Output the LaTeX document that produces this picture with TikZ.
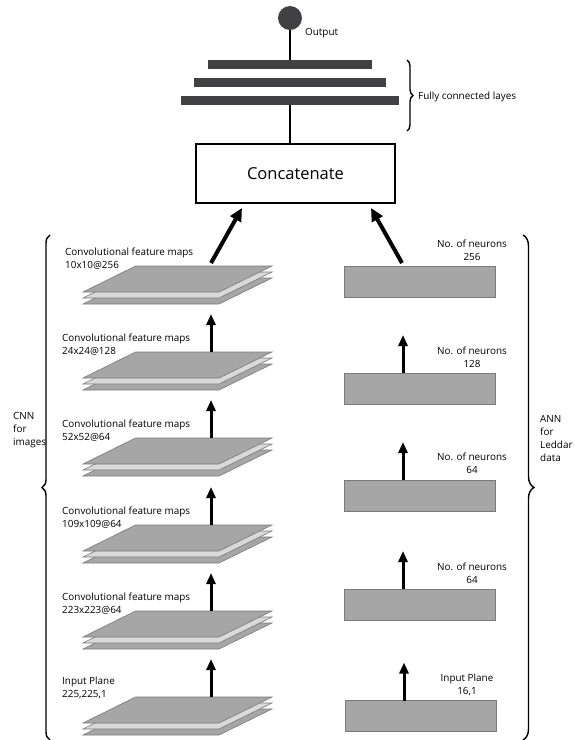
\documentclass[tikz,border=0pt]{standalone}
\usepackage{fontspec}
\setmainfont{Open Sans}
\usetikzlibrary{arrows.meta,decorations.pathreplacing}
\definecolor{planeA}{HTML}{A6A6A6}
\definecolor{planeB}{HTML}{D9D9D9}
\definecolor{edgeC}{HTML}{7A7A7A}
\definecolor{barC}{HTML}{414042}
\newcommand\fmstack[2]{%
  \begin{scope}[shift={(0,#1)}]
    \foreach \d/\c in {12/planeA,6/planeB,0/planeA}{%
      \filldraw[fill=\c,draw=edgeC,line width=0.6pt] (83,\d) -- (219,\d) -- (272,\d-26) -- (135.5,\d-26) -- cycle;}
    \coordinate (#2base) at (211,-26);
    \coordinate (#2tip) at (211,-64);
  \end{scope}}
\begin{document}
\begin{tikzpicture}[x=1pt,y=-1pt,
  lbl/.style={font=\fontsize{9.9}{13}\selectfont, inner sep=0pt},
  rbox/.style={draw=edgeC, fill=planeA, line width=0.8pt, minimum width=151pt, minimum height=31pt, inner sep=0pt},
  fcbar/.style={fill=barC, inner sep=0pt, minimum height=9pt},
  uparrow/.style={line width=3pt, -{Triangle[width=9pt,length=11pt]}},
  bigarrow/.style={line width=4pt, -{Triangle[width=12pt,length=13pt]}},
  bracestyle/.style={line width=1.4pt, decorate},
  conn/.style={line width=1.2pt}]
\useasboundingbox (0,0) rectangle (575,740);

% output and fully connected layers
\node[circle, fill=barC, minimum size=24pt, inner sep=0pt] (out) at (290,18) {};
\node[lbl, anchor=west] (outlbl) at (305,33) {Output};
\node[fcbar, minimum width=164pt] (fc1) at (290,64.5) {};
\node[fcbar, minimum width=192pt] (fc2) at (290,82.5) {};
\node[fcbar, minimum width=218pt] (fc3) at (290,100) {};
\draw[conn] (out.south) -- (fc1.north);
\draw[bracestyle, decoration={brace, amplitude=6pt}] (407,60) coordinate (fbt) -- (407,131) coordinate (fbb);
\node[lbl, anchor=west] (fclbl) at (418,97) {Fully connected layes};

% concatenate
\node[draw, line width=2pt, minimum width=199pt, minimum height=59pt, inner sep=0pt, font=\fontsize{16.5}{19}\selectfont] (cat) at (295.5,173.5) {Concatenate};
\draw[conn] (fc3.south) -- (fc3.south |- cat.north);

% CNN stacks
\fmstack{292}{s1}
\fmstack{378}{s2}
\fmstack{464}{s3}
\fmstack{551}{s4}
\fmstack{637}{s5}
\fmstack{723}{s6}
\node[lbl, anchor=west, align=left] (l1) at (65,259) {Convolutional feature maps\\10x10@256};
\node[lbl, anchor=west, align=left] (l2) at (62,345) {Convolutional feature maps\\24x24@128};
\node[lbl, anchor=west, align=left] (l3) at (62,431) {Convolutional feature maps\\52x52@64};
\node[lbl, anchor=west, align=left] (l4) at (62,518) {Convolutional feature maps\\109x109@64};
\node[lbl, anchor=west, align=left] (l5) at (62,604) {Convolutional feature maps\\223x223@64};
\node[lbl, anchor=west, align=left] (l6) at (62,688) {Input Plane\\225,225,1};
\draw[uparrow] (s2base) -- (s2tip);
\draw[uparrow] (s3base) -- (s3tip);
\draw[uparrow] (s4base) -- (s4tip);
\draw[uparrow] (s5base) -- (s5tip);
\draw[uparrow] (s6base) -- (s6tip);
\coordinate (catl) at (242,208);
\draw[bigarrow] ([yshift=3pt]s1base) -- (catl);

% ANN boxes
\node[rbox] (b1) at (419.5,281.5) {};
\node[rbox] (b2) at (419.5,388.5) {};
\node[rbox] (b3) at (419.5,495.5) {};
\node[rbox] (b4) at (419.5,604.5) {};
\node[rbox] (b5) at (420.5,716) {};
\node[lbl, align=center] (r1) at (472,250) {No. of neurons\\256};
\node[lbl, align=center] (r2) at (472,357) {No. of neurons\\128};
\node[lbl, align=center] (r3) at (472,463) {No. of neurons\\64};
\node[lbl, align=center] (r4) at (472,573) {No. of neurons\\64};
\node[lbl, align=center] (r5) at (467,685) {Input Plane\\16,1};
\coordinate (b2t) at (403,373);
\coordinate (b3t) at (403,480);
\coordinate (b4t) at (403,589);
\coordinate (b5t) at (404,700.5);
\draw[uparrow] (b2t) -- ++(0,-38);
\draw[uparrow] (b3t) -- ++(0,-38);
\draw[uparrow] (b4t) -- ++(0,-38);
\draw[uparrow] (b5t) -- ++(0,-38);
\coordinate (catr) at (371,208);
\draw[bigarrow] (402,263) -- (catr);

% braces
\draw[bracestyle, decoration={brace, amplitude=8pt}] (50,740) coordinate (lbb) -- (50,235) coordinate (lbt);
\node[lbl, anchor=west, align=left] (cnnlbl) at (13,430) {CNN\\for\\images};
\draw[bracestyle, decoration={brace, amplitude=11pt}] (523,235) coordinate (rbt) -- (523,740) coordinate (rbb);
\node[lbl, anchor=west, align=left] (annlbl) at (540,438) {ANN\\for\\Leddar\\data};
\end{tikzpicture}
\end{document}
